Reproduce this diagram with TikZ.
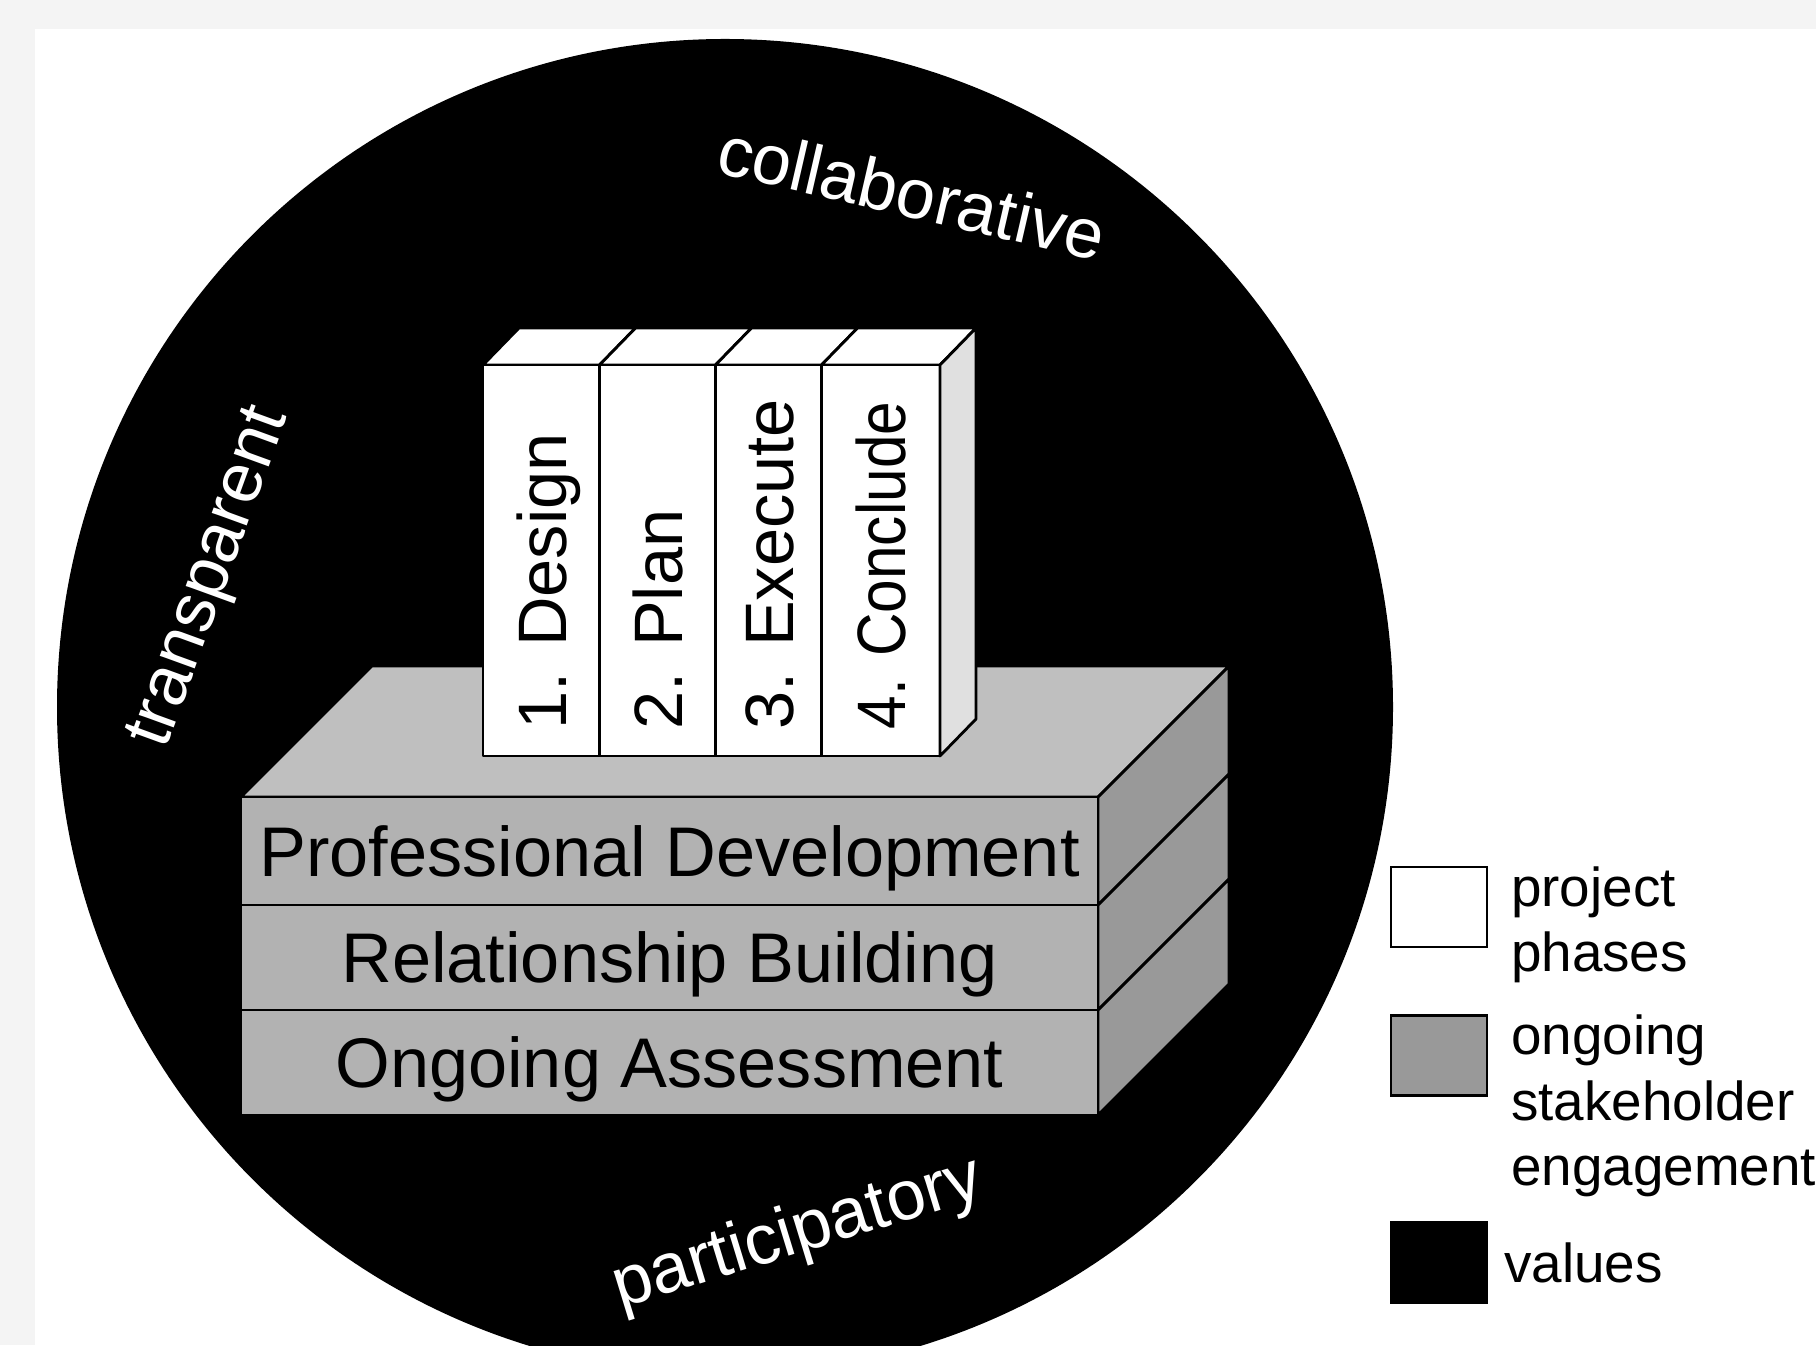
\documentclass[tikz,border=0pt]{standalone}
\usepackage{fontspec}
\setmainfont{Liberation Sans}
\usetikzlibrary{calc,positioning}

\definecolor{pagegray}{HTML}{F4F4F4}
\colorlet{topgray}{black!25}
\colorlet{frontgray}{black!30}
\colorlet{sidegray}{black!40}
\colorlet{bookside}{black!12}

\tikzset{
  face/.style={draw=black, line width=0.8pt, line join=round},
  bigtext/.style={font=\fontsize{20}{24}\selectfont, inner sep=0pt, text height=14.3pt, text depth=0pt},
  value/.style={bigtext, text=white},
  layer/.style={bigtext},
  phase/.style={bigtext, font=\fontsize{19.5}{24}\selectfont, rotate=90, anchor=west},
  keybox/.style={draw=black, line width=0.8pt, minimum width=0.96cm, minimum height=0.80cm, inner sep=0pt},
  keytext/.style={font=\fontsize{15.6}{18.7}\selectfont, inner sep=0pt, align=left},
}

\begin{document}
\begin{tikzpicture}
 \useasboundingbox (0,0) rectangle (18.16,13.45);
 \clip (0,0) rectangle (18.16,13.45);
 \fill[pagegray] (0,0) rectangle (18.16,13.45);
 \fill[white] (0.35,0) rectangle (18.16,13.16);
 %
 % the values
 \coordinate (c) at (7.25,6.38);
 \fill[black] (c) circle (6.68);
 \node[value, rotate=-13] (collab) at (9.12,11.53) {collaborative};
 \node[value, rotate=70] (transp) at (2.03,7.70) {transparent};
 \node[value, rotate=17] (partic) at (7.96,1.17) {participatory};
 %
 % stakeholder engagement slab
 \coordinate (d) at (1.31,1.31);
 \coordinate (s0) at (2.41,5.48);
 \coordinate (e0) at (10.98,5.48);
 \filldraw[face, fill=topgray] (s0) -- (e0) -- ($(e0)+(d)$) -- ($(s0)+(d)$) -- cycle;
 \foreach \y/\h/\name/\txt in {5.48/1.08/pd/Professional Development,
                               4.40/1.05/rb/Relationship Building,
                               3.35/1.05/oa/Ongoing Assessment} {
   \filldraw[face, fill=sidegray] (10.98,\y) -- ++(1.31,1.31) -- ++(0,-\h) -- ++(-1.31,-1.31) -- cycle;
   \filldraw[face, fill=frontgray] (2.41,\y) rectangle ++(8.57,-\h);
   \node[layer] (\name) at (6.695,\y-\h/2) {\txt};
 }
 %
 % project phases
 \foreach \x/\w/\name/\txt in {4.83/1.165/design/1. Design,
                               5.995/1.16/plan/2. Plan,
                               7.155/1.06/exec/3. Execute,
                               8.215/1.185/concl/\scalebox{0.88}[1]{4. Conclude}} {
   \filldraw[face, fill=white] (\x,9.80) -- ++(0.36,0.37) -- ++(\w,0) -- ++(-0.36,-0.37) -- cycle;
   \filldraw[face, fill=white] (\x,5.89) rectangle ++(\w,3.91);
   \node[phase] (\name) at (\x+\w/2,6.15) {\txt};
 }
 \filldraw[face, fill=bookside] (9.40,5.89) -- (9.40,9.80) -- ++(0.36,0.37) -- ++(0,-3.91) -- cycle;
 %
 % key
 \node[keybox, fill=white] (kphase) at (14.39,4.38) {};
 \node[keybox, fill=sidegray] (keng) at (14.39,2.895) {};
 \node[keybox, fill=black] (kvalue) at (14.39,0.825) {};
 \node[keytext, right=0.22cm of kphase.north east, anchor=north west] (tphase) {project\\phases};
 \node[keytext, right=0.22cm of keng.north east, anchor=north west] (teng) {ongoing\\stakeholder\\engagement};
 \node[keytext, right=0.15cm of kvalue] (tvalue) {values};
\end{tikzpicture}
\end{document}
